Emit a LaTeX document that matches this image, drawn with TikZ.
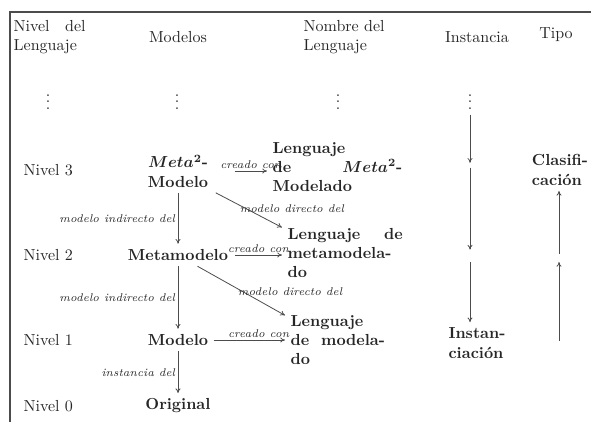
\documentclass[tikz,border=0pt]{standalone}
\usepackage{amsmath}
\usepackage{tikz}
\usetikzlibrary{arrows.meta}
\newcommand{\lspread}{\hskip 0pt plus 1filll\relax}

\begin{document}
\begin{tikzpicture}[
    x=0.625pt, y=-0.625pt,
    every node/.style={text=black!85},
    lvl/.style={anchor=west},
    mdl/.style={font=\bfseries},
    lang/.style={font=\bfseries, align=left, anchor=west},
    lbl/.style={font=\scriptsize\itshape, inner sep=1.5pt},
    arr/.style={draw=black!70, line width=0.5pt, -{To[length=3pt,width=3.2pt]}}
]
    \useasboundingbox (0,0) rectangle (591,422);

    % 1. Marco de la tabla
    \draw[black!70, line width=0.8pt] (10,422) -- (10,12) -- (591,12);

    % 2. Cabecera
    \node[anchor=west, text width=45pt, align=left] (hnivel) at (8,37) {Nivel\lspread del\\Lenguaje};
    \node (hmodelos) at (178,37) {Modelos};
    \node[anchor=west, align=left] (hnombre) at (298,37) {Nombre del\\Lenguaje};
    \node (hinst) at (477,37) {Instancia};
    \node (htipo) at (556,35) {Tipo};

    % 3. Puntos suspensivos
    \foreach \x/\n in {48/dnivel, 177/dmod, 338/dnom, 470/dinst}
        \node (\n) at (\x,97) {$\vdots$};

    % =========================================================================
    % NIVELES Y MODELOS
    % =========================================================================

    \node[lvl] (n3) at (18,170) {Nivel 3};
    \node[lvl] (n2) at (18,255) {Nivel 2};
    \node[lvl] (n1) at (18,340) {Nivel 1};
    \node[lvl] (n0) at (18,406) {Nivel 0};

    \node[mdl, text width=64pt, align=center] (meta) at (178,171) {$\boldsymbol{Meta^2}$-\\Modelo};
    \node[mdl, text width=64pt, align=center] (metamodelo) at (178,255) {Metamodelo};
    \node[mdl] (modelo) at (178,340) {Modelo};
    \node[mdl] (original) at (178,406) {Original};

    % --- Lenguajes ---
    \node[lang, text width=81pt] (lmeta) at (267,167) {Lenguaje\\de\lspread$\boldsymbol{Meta^2}$-\\Modelado};
    \node[lang, text width=72pt] (lmetamod) at (282,253) {Lenguaje\lspread de\\metamodela-\\do};
    \node[lang, text width=59pt] (lmod) at (285,340) {Lenguaje\\de\lspread modela-\\do};

    % --- Instancia y Tipo ---
    \node[mdl, align=left] (inst) at (477,343) {Instan-\\ciación};
    \node[mdl, align=left] (clasif) at (560,170) {Clasifi-\\cación};
    \coordinate (i3) at (470,166);
    \coordinate (i2) at (470,256);
    \coordinate (t1) at (559,341);
    \coordinate (t2) at (559,258);

    % =========================================================================
    % FLECHAS
    % =========================================================================

    \draw[arr] (meta) -- node[lbl, left] {modelo indirecto del} (metamodelo);
    \draw[arr] (metamodelo) -- node[lbl, left] {modelo indirecto del} (modelo);
    \draw[arr] (modelo) -- node[lbl, left] {instancia del} (original);

    \draw[arr] (meta.east) -- node[lbl, above] {creado con} (meta -| lmeta.west);
    \draw[arr] (metamodelo.east) -- node[lbl, above] {creado con} (metamodelo -| lmetamod.west);
    \draw[arr] (modelo.east) -- node[lbl, above, pos=0.63] {creado con} (modelo -| lmod.west);

    \draw[arr] (meta.-30) -- node[lbl, pos=0.32, anchor=west, yshift=-3pt] {modelo directo del} (lmetamod.158);
    \draw[arr] (metamodelo.-30) -- node[lbl, pos=0.43, anchor=west, yshift=-3pt] {modelo directo del} (lmod.155);

    \draw[arr, shorten >=2pt] (dinst) -- (i3);
    \draw[arr, shorten <=1pt, shorten >=4pt] (i3) -- (i2);
    \draw[arr, shorten <=4pt] (i2) -- (i2 |- inst.north);

    \draw[arr, shorten >=2.5pt] (t1) -- (t2);
    \draw[arr, shorten <=2.5pt] (t2) -- (t2 |- clasif.south);

\end{tikzpicture}
\end{document}
